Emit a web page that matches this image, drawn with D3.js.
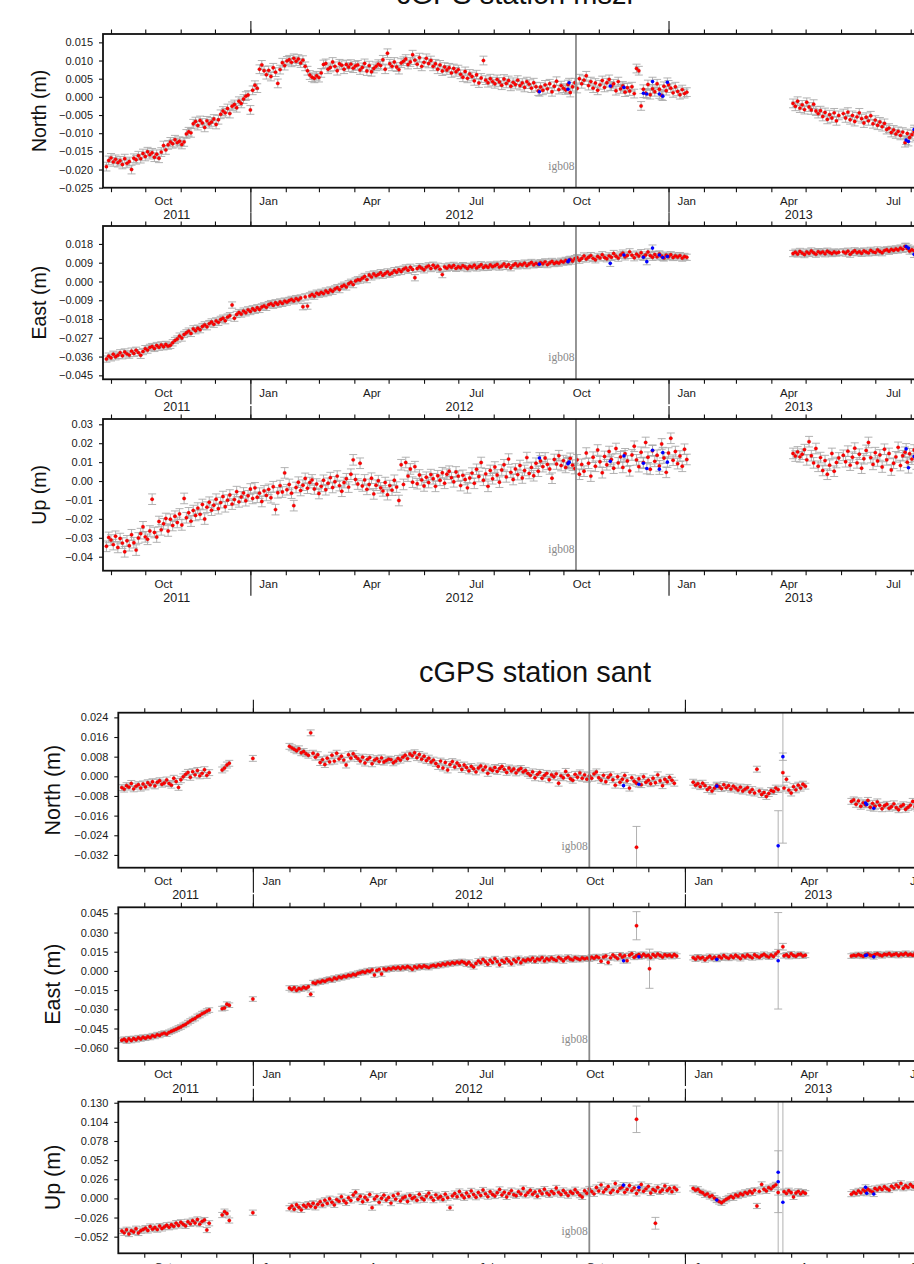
<!DOCTYPE html>
<html>
<head>
<meta charset="utf-8">
<script src="https://cdn.jsdelivr.net/npm/d3@7"></script>
<style>
  body { margin: 0; background: #fff; }
  svg { display: block; font-family: "Liberation Sans", Arial, sans-serif; }
</style>
</head>
<body>
<svg id="chart" width="914" height="1264"></svg>
<script>
// daily solutions, thinned to one value every 2 days, in mm
// each segment starts at the matching date in *Starts

// ---- station mszr ----
const mszrStarts = ["2011-08-28", "2013-04-20", "2013-06-03"];
const mszrNorth = [
  [-19.2, -17.5, -16.8, -17.9, -17.2, -18.1, -17.6, -18.6, -17.0, -18.3,
   -17.8, -20.0, -16.9, -17.3, -16.2, -17.0, -15.6, -16.4, -15.1, -15.9,
   -15.4, -16.6, -15.8, -16.9, -15.2, -13.4, -14.6, -13.2, -12.4, -12.9,
   -11.8, -12.6, -12.2, -13.1, -12.4, -10.2, -9.6, -9.9, -7.4, -6.8,
   -7.9, -6.5, -7.2, -8.4, -6.6, -7.4, -6.9, -6.1, -7.6, -6.3,
   -4.8, -3.9, -4.4, -3.2, -4.6, -2.6, -2.1, -3.0, -1.2, -1.8,
   -0.6, 0.2, 0.5, -3.6, 1.8, 3.2, 2.4, 7.6, 8.8, 7.2,
   6.1, 7.3, 5.6, 8.0, 6.8, 3.7, 7.5, 9.4, 8.6, 9.9,
   10.2, 9.5, 10.6, 9.8, 10.4, 9.3, 10.1, 8.4, 7.2, 6.0,
   5.4, 5.1, 5.8, 5.3, 6.6, 8.9, 9.2, 7.6, 8.1, 9.6,
   8.4, 7.2, 9.1, 8.7, 7.6, 8.9, 8.2, 9.0, 7.9, 8.5,
   8.8, 7.4, 8.1, 9.2, 7.1, 8.6, 6.9, 7.8, 8.4, 9.0,
   8.6, 10.2, 7.6, 12.0, 9.1, 8.4, 9.6, 8.2, 7.5, 9.3,
   9.8, 10.4, 8.9, 9.6, 11.6, 10.1, 9.0, 10.8, 8.4, 9.5,
   10.6, 9.2, 10.0, 8.4, 9.1, 7.6, 8.8, 7.1, 8.2, 7.4,
   8.0, 6.6, 7.8, 6.9, 7.5, 6.2, 5.4, 7.0, 5.1, 6.3,
   5.6, 4.4, 6.1, 3.8, 5.2, 10.0, 4.6, 3.9, 5.0, 4.2,
   3.6, 4.8, 4.1, 3.2, 4.9, 3.7, 4.5, 2.9, 4.0, 3.4,
   4.6, 3.1, 3.8, 2.6, 4.2, 3.5, 2.4, 3.9, 2.8, 1.6,
   2.7, 1.8, 3.3, 2.2, 3.6, 1.4, 2.9, 4.3, 2.0, 3.1,
   2.4, 1.9, 3.4, 1.2, 2.8, 3.9, 2.3, 5.0, 3.6, 4.6,
   5.8, 3.1, 4.2, 2.4, 3.8, 1.8, 3.3, 4.5, 2.6, 3.9,
   4.8, 2.9, 3.6, 1.7, 4.2, 2.2, 3.0, 1.3, 2.5, 1.6,
   2.8, 0.9, 7.8, 7.2, -2.5, 2.1, 1.0, 3.4, 0.6, 2.2,
   1.4, 3.6, 2.1, 0.4, 2.9, 1.7, 3.3, 2.4, 1.1, 2.8,
   1.5, 0.6, 2.0, 0.9, 1.3],
  [-1.8, -2.6, -1.2, -3.1, -2.2, -3.5, -1.5, -2.8, -3.6, -2.0,
   -3.9, -4.6, -3.8, -5.4, -4.3, -6.2, -4.9, -5.8, -4.4, -6.6, -5.1],
  [-4.6, -5.8, -4.2, -6.3, -5.1, -6.8, -5.5, -4.4, -6.0, -7.2,
   -5.6, -6.6, -5.2, -7.4, -6.4, -7.8, -6.9, -8.2, -7.3, -9.0,
   -8.6, -9.8, -9.1, -10.2, -9.5, -10.6, -9.7, -12.6, -10.1, -11.2,
   -10.4, -9.6, -10.8, -11.5, -10.2, -11.0]
];
const mszrEast = [
  [-37.2, -35.8, -36.6, -34.9, -36.1, -35.4, -34.2, -35.6, -33.8, -34.7,
   -35.3, -33.4, -34.5, -33.0, -34.1, -35.4, -33.6, -32.2, -32.9, -31.6,
   -31.2, -32.1, -30.7, -31.5, -30.4, -31.3, -30.2, -31.0, -30.6, -29.4,
   -28.3, -27.6, -26.2, -27.1, -25.4, -24.6, -23.8, -24.9, -22.7, -23.6,
   -22.4, -23.1, -21.6, -20.8, -21.7, -20.2, -19.4, -20.5, -18.9, -19.6,
   -18.2, -17.6, -18.8, -17.1, -16.4, -11.3, -17.6, -15.8, -14.9, -15.6,
   -14.2, -15.0, -13.6, -14.4, -13.1, -13.8, -12.6, -13.4, -12.2, -11.7,
   -12.4, -11.1, -10.6, -11.4, -10.2, -10.9, -9.8, -10.5, -9.4, -9.9,
   -9.1, -8.6, -9.3, -8.2, -8.8, -7.9, -12.1, -7.4, -11.8, -6.9,
   -6.2, -7.0, -5.6, -6.1, -5.2, -5.8, -4.6, -5.3, -4.1, -4.7,
   -3.6, -3.0, -3.9, -2.4, -1.8, -2.6, -1.1, -0.4, -1.5, 0.2,
   0.8, 0.7, 1.6, 2.4, 0.9, 3.1, 2.2, 3.6, 2.8, 3.4,
   4.2, 3.0, 3.8, 4.6, 3.5, 4.1, 5.2, 4.4, 5.6, 4.8,
   5.9, 6.5, 5.4, 6.8, 5.8, 1.8, 6.2, 7.1, 6.4, 5.6,
   6.9, 7.5, 6.2, 7.8, 6.6, 7.3, 5.9, 3.3, 7.0, 6.4,
   7.4, 6.8, 7.7, 6.3, 7.1, 6.6, 7.6, 7.0, 6.2, 7.3,
   6.9, 7.8, 6.5, 7.2, 8.0, 6.7, 7.5, 6.8, 7.9, 7.1,
   7.6, 8.2, 6.9, 7.4, 8.4, 7.2, 8.1, 6.6, 7.8, 8.5,
   7.5, 8.3, 7.9, 8.8, 7.6, 8.4, 9.1, 8.0, 8.7, 8.2,
   9.0, 8.5, 9.4, 8.1, 8.9, 9.6, 8.6, 9.2, 8.8, 9.7,
   9.3, 10.1, 9.6, 10.6, 9.8, 10.9, 11.4, 10.2, 11.0, 12.2,
   10.8, 11.6, 12.4, 11.1, 10.4, 12.0, 11.3, 12.8, 11.5, 10.9,
   12.3, 11.6, 13.4, 12.1, 11.2, 12.7, 13.6, 11.8, 12.5, 14.2,
   12.6, 11.4, 13.1, 12.2, 13.8, 11.9, 12.7, 14.1, 12.4, 11.6,
   12.9, 11.8, 13.2, 12.1, 11.3, 12.6, 11.9, 12.8, 11.5, 12.3,
   11.7, 12.4, 11.2, 12.0, 11.6],
  [13.4, 14.0, 13.2, 14.4, 13.6, 12.9, 14.1, 13.5, 14.6, 13.8,
   13.1, 14.3, 13.7, 14.2, 13.3, 14.5, 13.9, 13.4, 14.1, 13.6, 14.0],
  [14.2, 13.6, 14.5, 13.1, 14.0, 14.7, 13.8, 14.3, 13.5, 14.6,
   14.1, 13.7, 14.9, 14.2, 13.9, 15.1, 14.4, 13.8, 14.8, 15.2,
   14.5, 15.4, 14.9, 15.6, 15.1, 16.0, 15.4, 16.8, 15.8, 14.6,
   15.2, 14.8, 15.5, 14.9, 15.3, 14.7]
];
const mszrUp = [
  [-34.5, -29.8, -31.2, -33.6, -29.2, -35.1, -30.4, -32.8, -37.4, -31.6,
   -34.2, -28.4, -32.6, -36.5, -30.1, -27.8, -24.2, -29.5, -30.8, -26.4,
   -9.6, -27.2, -29.6, -21.4, -25.8, -22.6, -19.8, -26.4, -20.2, -23.5,
   -18.6, -21.9, -17.4, -23.2, -9.2, -19.4, -16.8, -21.2, -15.6, -18.2,
   -14.3, -17.6, -12.4, -20.1, -13.8, -11.2, -15.4, -12.8, -9.6, -14.6,
   -11.4, -8.2, -13.6, -10.1, -7.4, -12.2, -9.8, -5.6, -11.0, -8.4,
   -6.3, -10.4, -7.8, -4.2, -9.2, -3.6, -8.6, -6.4, -10.8, -5.2,
   -7.6, -4.4, -8.8, -3.0, -15.1, -6.2, -2.4, -5.8, 4.3, -4.6,
   -1.8, -6.4, -13.0, -3.4, -0.6, -5.0, -2.2, 1.4, -3.8, -0.8,
   0.6, -4.2, -1.6, -6.6, -2.8, 0.4, -4.6, -1.2, 1.8, -3.4,
   -0.4, 2.6, -2.4, -5.4, -0.8, 1.2, -3.2, 3.6, 11.2, 0.8,
   -1.6, 9.4, -2.6, 0.6, -4.4, -1.8, 1.5, -6.8, -2.2, 0.2,
   -3.6, -5.2, -0.8, -7.2, -2.4, -4.8, 0.4, -3.2, -10.3, 8.6,
   -1.8, 9.8, 2.6, 6.4, -0.6, 7.6, -1.4, 3.2, 0.6, -2.6,
   2.0, -0.8, 3.4, 1.2, -2.8, 2.8, 0.4, 4.4, -1.2, 3.6,
   5.2, 1.8, -0.4, 4.8, 2.6, -2.4, 3.0, 0.8, -3.6, 1.6,
   4.2, -1.2, 6.2, 2.4, 9.8, 0.4, 3.8, -2.8, 5.6, 1.2,
   7.4, 3.2, -0.6, 5.8, 8.6, 2.2, 11.6, 4.6, 0.8, 6.4,
   3.4, 8.2, 1.6, 5.6, 12.4, 4.0, 7.2, 2.8, 9.4, 5.2,
   10.6, 7.6, 12.2, 8.8, 6.4, 1.5, 11.4, 9.0, 13.4, 8.2,
   10.8, 7.2, 9.6, 12.0, 8.4, 6.6, 11.2, 3.6, 8.8, 5.2,
   14.8, 9.4, 2.6, 12.6, 7.8, 16.4, 10.2, 4.4, 13.0, 8.6,
   15.6, 11.4, 6.8, 17.2, 9.6, 12.8, 7.2, 14.4, 10.6, 5.4,
   13.8, 18.4, 11.2, 7.6, 15.2, 9.8, 20.4, 12.6, 6.2, 16.0,
   10.4, 13.6, 8.0, 19.6, 12.2, 4.6, 14.8, 22.6, 11.0, 15.6,
   9.2, 13.2, 7.8, 16.8, 11.4],
  [14.6, 13.2, 15.4, 12.8, 14.2, 16.6, 11.2, 20.8, 13.4, 9.6,
   17.2, 7.8, 12.4, 5.6, 10.8, 3.6, 8.4, 14.6, 5.2, 9.8, 12.2],
  [13.6, 10.2, 15.8, 8.4, 12.6, 17.4, 9.6, 14.2, 6.8, 11.8,
   16.2, 20.4, 12.4, 8.8, 15.0, 10.6, 13.8, 7.4, 16.8, 11.2,
   14.6, 5.8, 9.4, 12.8, 17.8, 8.2, 13.4, 15.2, 10.0, 14.4,
   11.6, 16.4, 9.0, 13.0, 15.8, 12.2]
];
const mszrBlueDates = ["2012-09-10", "2012-10-05", "2012-10-06", "2012-11-11", "2012-11-23",
  "2012-12-10", "2012-12-13", "2012-12-18", "2012-12-24", "2012-12-27", "2012-12-31",
  "2013-07-28", "2013-07-30", "2013-08-04"];
const mszrNorthBlue = [1.4, 2.1, 3.9, 3.0, 2.6, 1.0, 0.8, 4.2, 0.8, 0.2, 4.0, -11.9, -12.3, -9.0];
const mszrEastBlue = [8.3, 9.5, 10.3, 8.7, 12.7, 11.6, 9.5, 16.0, 12.7, 11.5, 12.0, 16.8, 16.0, 13.0];
const mszrUpBlue = [12.2, 9.2, 10.0, 10.4, 13.3, 9.4, 6.6, 16.3, 6.3, 15.0, 10.0, 17.0, 7.0, 13.0];
const mszrSigma = [1.2, 1.5, 2.8];   // typical 1-sigma (mm) for N, E, U

// ---- station sant ----
const santStarts = ["2011-09-12", "2011-12-06", "2012-01-01", "2012-02-01", "2013-01-08", "2013-03-26", "2013-05-22"];
const santNorth = [
  [-4.6, -5.2, -3.8, -4.4, -2.9, -5.1, -4.0, -3.4, -4.8, -3.1,
   -4.3, -2.6, -3.5, -2.2, -3.9, -2.4, -1.8, -3.2, -2.7, -1.5,
   -2.9, -3.6, -0.8, -2.1, -4.5, -1.4, -0.2, 0.8, 1.6, -0.4,
   1.9, 0.6, 2.4, 0.2, 1.2, 2.7, 0.4, 1.5],
  [2.6, 3.4, 4.6, 5.3],
  [7.3],
  [12.2, 11.6, 11.0, 10.4, 11.2, 9.6, 10.1, 9.2, 8.6, 17.7,
   9.4, 7.8, 8.8, 5.6, 6.8, 4.8, 7.4, 5.9, 8.6, 6.2,
   9.4, 7.1, 8.2, 6.6, 4.6, 8.8, 7.4, 9.2, 8.0, 7.2,
   6.2, 7.8, 5.4, 6.9, 7.6, 5.1, 6.6, 7.2, 6.0, 7.5, 5.8, 6.4, 7.0, 6.8, 5.5, 6.2, 7.3,
   6.6, 7.8, 8.6, 7.2, 9.1, 8.4, 9.6, 7.6, 8.9, 7.0, 8.2, 6.4, 7.4, 5.8,
   6.6, 5.2, 4.0, 6.2, 3.4, 5.6, 2.6, 4.8, 6.0, 3.8, 5.4, 4.4, 2.8, 4.6,
   3.6, 2.2, 4.0, 3.1, 1.8, 3.4, 4.2, 2.6, 3.8, 1.2, 3.0, 2.4, 3.6,
   2.0, 3.2, 4.0, 2.8, 1.6, 3.4, 2.2, 3.0, 1.4, 2.6, 3.2, 1.8, 2.4,
   1.2, 0.4, 1.8, -0.6, 0.8, 1.6, -0.8, 0.4, 1.2, -1.4, 0.6, -0.2, 1.0,
   -2.8, 0.2, -0.6, 2.0, 0.4, -1.0, -1.6, 0.8, -0.4, 1.4, -0.8, 0.6, -1.2,
   0.2, -0.8, 1.0, 1.8, -0.6, -1.6, 0.4, -2.2, -0.4, 0.6, -1.4, -3.6, -0.2,
   -2.4, -1.2, 0.4, -1.8, -4.8, -0.6, -2.0, -2.8, -1.0, -3.4, -0.2, -2.4,
   -1.6, -3.0, -0.8, -2.6, 0.6, -1.8, -3.8, -1.2, -2.2, -0.4, -1.6, -2.8],
  [-2.4, -3.6, -3.0, -4.2, -2.8, -3.8, -5.4, -4.6, -6.0, -4.8,
   -3.6, -4.2, -5.0, -3.4, -4.6, -3.8, -5.2, -4.0, -4.8, -5.6,
   -4.4, -6.0, -5.2, -4.6, -6.4, -5.4, -6.8, 2.9, -6.0, -7.4,
   -6.6, -8.2, -7.0, -5.8, -6.2, -4.8, -5.4],
  [-4.8, -1.2, -5.6, -6.8, -4.2, -5.5, -3.6, -4.8, -3.2, -4.0],
  [-10.2, -9.6, -11.4, -10.0, -12.2, -10.8, -11.6, -9.8, -12.6, -11.0,
   -12.2, -10.4, -11.8, -13.2, -12.0, -11.4, -13.0, -12.4, -11.2, -12.8,
   -13.6, -12.2, -11.6, -13.4, -12.6, -11.8, -10.2, -12.4, -13.0, -14.2,
   -12.8, -11.6, -13.4, -12.2, -14.0, -12.6, -13.2, -11.8, -12.8, -13.6,
   -12.4, -13.0, -12.2]
];
const santEast = [
  [-54.2, -53.4, -54.8, -53.0, -54.4, -52.8, -53.8, -52.2, -53.2, -51.8,
   -52.6, -51.4, -52.0, -50.6, -51.2, -49.8, -50.4, -49.2, -48.6, -49.4,
   -48.0, -47.2, -46.4, -45.6, -44.6, -43.8, -42.6, -41.8, -40.4, -39.2,
   -38.0, -37.2, -35.6, -34.8, -33.4, -32.6, -31.4, -30.6],
  [-29.5, -29.0, -26.0, -26.8],
  [-22.0],
  [-13.4, -14.6, -13.2, -15.2, -13.8, -14.2, -12.8, -13.6, -12.4, -18.3,
   -9.2, -9.8, -8.4, -8.8, -7.6, -8.2, -7.0, -6.4, -7.2, -5.6,
   -6.2, -4.8, -5.4, -4.2, -4.6, -3.4, -3.8, -2.6, -3.2, -1.8,
   -1.4, -0.6, -1.2, 0.2, -0.4, 0.8, -3.2, 0.4, 1.2, -2.4,
   1.6, 0.8, 2.0, 1.4, 2.6, 1.8, 2.8, 1.6, 3.0, 2.2,
   3.4, 2.6, 1.2, 3.2, 2.4, 3.8, 2.8, 4.0, 3.2, 2.6,
   3.8, 4.4, 3.6, 5.0, 4.2, 5.6, 4.8, 6.2, 5.4, 6.6,
   5.8, 7.0, 6.2, 7.4, 6.6, 5.2, 6.8, 4.6, 3.2, 5.8,
   7.8, 6.4, 9.0, 7.2, 5.2, 8.4, 6.6, 9.6, 7.4, 4.8,
   8.2, 6.8, 9.4, 7.6, 5.6, 8.8, 7.2, 9.8, 6.4, 8.6,
   7.8, 9.2, 8.4, 10.0, 7.6, 9.4, 8.8, 10.4, 7.8, 9.6,
   8.6, 10.2, 9.0, 8.2, 10.6, 9.4, 7.8, 9.8, 10.8, 9.2,
   8.6, 10.4, 9.6, 8.8, 10.2, 9.4, 10.0, 9.2, 10.8, 9.8,
   11.2, 10.4, 7.6, 10.8, 11.6, 6.6, 10.2, 12.4, 11.0, 9.6,
   12.6, 10.8, 11.8, 8.0, 12.2, 13.4, 10.6, 11.8, 12.8, 11.2,
   13.0, 11.6, 12.2, 10.4, 12.8, 11.4, 13.2, 12.0, 10.8, 12.6,
   11.8, 12.4, 11.2, 12.8, 11.6],
  [10.4, 9.2, 11.0, 9.8, 10.6, 8.6, 10.2, 11.4, 9.6, 10.8,
   9.4, 11.2, 10.0, 12.0, 10.6, 9.8, 11.6, 10.4, 12.2, 11.0,
   9.6, 11.8, 10.8, 12.4, 11.2, 10.2, 12.6, 11.4, 10.6, 12.0,
   13.0, 11.6, 10.8, 12.4, 11.2, 13.2, 15.0],
  [11.8, 12.6, 11.2, 13.4, 12.0, 11.4, 12.8, 13.0, 11.6, 12.2],
  [11.6, 12.2, 11.8, 12.8, 12.0, 11.4, 12.6, 13.2, 12.2, 11.8,
   12.8, 13.4, 12.4, 11.8, 13.0, 12.6, 13.6, 12.2, 12.8, 13.4,
   12.0, 13.2, 12.6, 13.8, 12.4, 13.0, 12.2, 13.6, 12.8, 13.2,
   12.4, 13.4, 12.6, 13.0, 12.2, 13.8, 12.8, 13.4, 12.6, 13.2,
   12.8, 13.6, 12.4]
];
const santUp = [
  [-44.2, -46.8, -42.6, -48.4, -43.8, -45.6, -41.2, -47.0, -44.0, -42.2,
   -40.4, -43.6, -38.2, -41.8, -39.6, -42.4, -37.6, -40.8, -38.8, -36.4,
   -39.2, -35.8, -38.0, -33.6, -36.8, -32.4, -35.2, -37.4, -31.8, -34.6,
   -30.2, -33.4, -28.6, -35.0, -31.2, -29.4, -43.0, -33.8],
  [-22.6, -18.0, -20.6, -30.0],
  [-19.4],
  [-13.4, -10.2, -14.8, -8.6, -12.0, -15.6, -9.4, -11.6, -7.8, -10.8,
   -6.6, -12.2, -8.0, -4.4, -9.2, -2.6, -6.8, -0.4, -5.2, -8.8,
   -1.6, -4.0, 2.4, -3.2, -6.2, 0.8, -2.8, 4.6, 8.4, -1.2,
   3.0, -4.6, 1.6, -2.0, 5.2, -12.6, -0.8, 2.8, -5.4, 0.2,
   4.4, -2.2, 1.2, -6.4, 3.6, -1.0, 6.2, -3.4, 0.6, 2.2,
   -4.2, 4.0, -0.2, 1.8, -2.6, 5.6, 0.4, -1.8, 3.2, 7.2,
   1.4, -2.4, 4.8, 0.6, 2.6, -1.4, 5.8, 1.0, -12.6, 3.4,
   6.6, 2.2, 9.4, 4.2, 0.8, 7.4, 3.0, 10.2, 5.2, 1.6,
   8.0, 4.0, 11.4, 6.2, 2.4, 9.0, 5.4, 3.2, 7.6, 12.2,
   4.6, 8.4, 2.0, 6.8, 10.6, 5.0, 3.6, 9.2, 6.0, 13.4,
   4.2, 7.8, 11.0, 5.6, 8.8, 3.0, 10.0, 6.4, 12.6, 7.2,
   4.8, 9.6, 6.6, 14.2, 8.2, 5.2, 10.8, 7.4, 3.8, 9.0,
   6.8, 11.8, 8.0, 4.4, 2.0, 10.4, 7.0, 12.8, 9.4, 6.2,
   14.8, 10.0, 18.4, 8.6, 12.4, 16.2, 7.8, 11.2, 20.2, 9.4,
   13.6, 15.4, 8.2, 12.0, 17.6, 10.6, 14.2, 6.8, 11.6, 18.8,
   9.8, 13.0, 16.4, 7.4, 12.2, 10.2, 15.0, 8.8, 11.4, 17.0,
   10.8, 13.8, 9.2, 14.6, 11.8],
  [13.6, 11.2, 12.4, 9.0, 7.6, 4.8, 6.2, 2.6, 3.8, 0.4,
   -1.8, -4.2, -6.0, -3.6, -1.2, 0.6, 2.8, 0.8, 4.6, 3.2,
   6.4, 5.0, 8.2, 6.6, 9.8, 7.4, 11.0, -10.3, 9.6, 19.0,
   12.4, 10.2, 14.6, 13.0, 16.2, 18.4, 8.0],
  [9.2, 6.8, 10.4, 8.0, 2.0, 7.4, 9.6, 6.2, 8.6, 7.0],
  [5.8, 8.4, 6.6, 10.2, 7.6, 11.4, 9.0, 12.6, 10.2, 8.8,
   13.4, 11.6, 14.6, 12.0, 15.8, 13.2, 11.4, 16.6, 14.0, 18.2,
   15.4, 20.4, 13.8, 17.2, 15.0, 18.8, 16.2, 14.4, 19.6, 16.8,
   13.6, 17.8, 15.2, 18.6, 14.8, 17.4, 16.0, 19.2, 15.6, 13.8,
   17.0, 15.4, 16.6]
];
// isolated solutions with large uncertainty: [date, value, sigma]
const santNorthOdd = [["2012-11-21", -28.9, 8.5], ["2013-03-25", 1.5, 28.7]];
const santEastOdd = [["2012-11-21", 35.3, 11.0], ["2012-12-02", 1.7, 15.3], ["2013-03-25", 18.9, 2.6]];
const santUpOdd = [["2012-11-21", 107.5, 18.0], ["2012-12-07", -33.8, 8.0]];
// blue solutions: [date, value, sigma]
const santNorthBlue = [["2012-11-10", -3.8, 1.2], ["2012-11-23", -3.2, 1.2], ["2013-01-28", -4.0, 1.2],
  ["2013-03-21", -28.3, 14.3], ["2013-03-25", 8.0, 1.5], ["2013-06-03", -10.9, 1.2],
  ["2013-06-04", -11.5, 1.2], ["2013-06-10", -13.0, 1.2]];
const santEastBlue = [["2012-11-10", 7.9, 1.8], ["2012-11-23", 11.0, 1.8], ["2013-01-28", 9.0, 1.8],
  ["2013-03-21", 7.9, 37.7], ["2013-06-03", 12.0, 1.8], ["2013-06-04", 12.4, 1.8], ["2013-06-10", 11.0, 1.8]];
const santUpBlue = [["2012-11-10", 18.0, 3.5], ["2012-11-23", 15.0, 3.5], ["2013-01-28", -2.2, 3.5],
  ["2013-03-21", 35.5, 300], ["2013-03-21", 22.7, 42], ["2013-03-25", -5.3, 300],
  ["2013-06-03", 15.0, 3.5], ["2013-06-04", 7.0, 3.5], ["2013-06-10", 6.0, 3.5]];
const santSigma = [1.2, 1.8, 3.5];

// axis ticks (mm) and frame change date
const mszrNorthTicks = [-25, -20, -15, -10, -5, 0, 5, 10, 15];
const mszrEastTicks = [-45, -36, -27, -18, -9, 0, 9, 18];
const mszrUpTicks = [-40, -30, -20, -10, 0, 10, 20, 30];
const santNorthTicks = [-32, -24, -16, -8, 0, 8, 16, 24];
const santEastTicks = [-60, -45, -30, -15, 0, 15, 30, 45];
const santUpTicks = [-52, -26, 0, 26, 52, 78, 104, 130];
const frameChange = { date: "2012-10-12", label: "igb08" };

const svg = d3.select("#chart");
const parse = d3.utcParse("%Y-%m-%d");

function regularPoints(starts, segs, sigma) {
  const pts = [];
  segs.forEach((vals, k) => {
    const t0 = parse(starts[k]);
    vals.forEach((v, i) => pts.push({ date: d3.utcDay.offset(t0, 2 * i), v: v, s: sigma, blue: false }));
  });
  return pts;
}
function listPoints(list, blue) {
  return list.map(d => ({ date: parse(d[0]), v: d[1], s: d[2], blue: blue }));
}

const stations = [
  {
    name: "cGPS station mszr", titleY: 4, from: "2011-08-25", to: "2013-08-17", left: 103, right: 929,
    labelX: 46, labelSize: 19.5,
    panels: [
      { label: "North (m)", top: 34, bottom: 187.7, dom: [-25, 17.3], ticks: mszrNorthTicks, fmt: ".3f",
        pts: regularPoints(mszrStarts, mszrNorth, mszrSigma[0])
          .concat(mszrBlueDates.map((d, i) => ({ date: parse(d), v: mszrNorthBlue[i], s: mszrSigma[0], blue: true }))) },
      { label: "East (m)", top: 226, bottom: 379.3, dom: [-46.9, 26.6], ticks: mszrEastTicks, fmt: ".3f",
        pts: regularPoints(mszrStarts, mszrEast, mszrSigma[1])
          .concat(mszrBlueDates.map((d, i) => ({ date: parse(d), v: mszrEastBlue[i], s: mszrSigma[1], blue: true }))) },
      { label: "Up (m)", top: 419, bottom: 570.7, dom: [-47.4, 32.8], ticks: mszrUpTicks, fmt: ".2f",
        pts: regularPoints(mszrStarts, mszrUp, mszrSigma[2])
          .concat(mszrBlueDates.map((d, i) => ({ date: parse(d), v: mszrUpBlue[i], s: mszrSigma[2], blue: true }))) }
    ]
  },
  {
    name: "cGPS station sant", titleY: 681.7, from: "2011-09-09", to: "2013-08-15", left: 118.3, right: 951.7,
    labelX: 60, labelSize: 21.5,
    panels: [
      { label: "North (m)", top: 712.7, bottom: 867.7, dom: [-37.2, 25.9], ticks: santNorthTicks, fmt: ".3f",
        pts: regularPoints(santStarts, santNorth, santSigma[0])
          .concat(listPoints(santNorthOdd, false), listPoints(santNorthBlue, true)) },
      { label: "East (m)", top: 907.3, bottom: 1061, dom: [-70.4, 49.7], ticks: santEastTicks, fmt: ".3f",
        pts: regularPoints(santStarts, santEast, santSigma[1])
          .concat(listPoints(santEastOdd, false), listPoints(santEastBlue, true)) },
      { label: "Up (m)", top: 1101.7, bottom: 1253.3, dom: [-74.6, 131.4], ticks: santUpTicks, fmt: ".3f",
        pts: regularPoints(santStarts, santUp, santSigma[2])
          .concat(listPoints(santUpOdd, false), listPoints(santUpBlue, true)) }
    ]
  }
];

let clipCount = 0;

function drawPanel(x, st, p) {
  const y = d3.scaleLinear().domain(p.dom).range([p.bottom, p.top]);
  const g = svg.append("g");
  const [x0, x1] = x.range();
  const [d0, d1] = x.domain();
  const id = "clip" + (clipCount++);
  g.append("clipPath").attr("id", id).append("rect")
    .attr("x", x0).attr("y", p.top).attr("width", x1 - x0).attr("height", p.bottom - p.top);
  const plot = g.append("g").attr("clip-path", `url(#${id})`);

  // error bars
  const cap = 4;
  const bars = p.pts.map(d => {
    const px = x(d.date), ya = y(d.v - d.s), yb = y(d.v + d.s);
    return `M${px},${ya}V${yb}M${px - cap},${ya}H${px + cap}M${px - cap},${yb}H${px + cap}`;
  }).join("");
  plot.append("path").attr("d", bars).attr("fill", "none")
    .attr("stroke", "#a9a9a9").attr("stroke-width", 0.9);

  plot.selectAll("circle.red").data(p.pts.filter(d => !d.blue)).join("circle")
    .attr("class", "red")
    .attr("cx", d => x(d.date)).attr("cy", d => y(d.v)).attr("r", 1.7)
    .attr("fill", "#ff0000").attr("stroke", "#c00000").attr("stroke-width", 0.3);
  plot.selectAll("circle.blue").data(p.pts.filter(d => d.blue)).join("circle")
    .attr("class", "blue")
    .attr("cx", d => x(d.date)).attr("cy", d => y(d.v)).attr("r", 1.8)
    .attr("fill", "#0000ff");

  // reference frame change
  const fx = x(parse(frameChange.date));
  g.append("line").attr("x1", fx).attr("x2", fx).attr("y1", p.top).attr("y2", p.bottom)
    .attr("stroke", "#8a8a8a").attr("stroke-width", 1.8);
  g.append("text").attr("x", fx - 1.5).attr("y", p.bottom - 18)
    .attr("text-anchor", "end").attr("font-family", "'Liberation Serif', 'DejaVu Serif', serif")
    .attr("font-size", 11.5).attr("fill", "#8a8a8a").text(frameChange.label);

  // frame
  g.append("rect").attr("x", x0).attr("y", p.top).attr("width", x1 - x0).attr("height", p.bottom - p.top)
    .attr("fill", "none").attr("stroke", "#111").attr("stroke-width", 1.8);

  const months = d3.utcMonth.range(d0, d1);
  const years = d3.utcYear.range(d0, d1);
  const clean = a => { a.select(".domain").remove(); a.selectAll("line").attr("stroke", "#111").attr("stroke-width", 1.1); };

  g.append("g").attr("transform", `translate(0,${p.bottom})`)
    .call(d3.axisBottom(x).tickValues(months).tickSize(4.5).tickFormat("")).call(clean);
  g.append("g").attr("transform", `translate(0,${p.top})`)
    .call(d3.axisTop(x).tickValues(months).tickSize(4.5).tickFormat("")).call(clean);
  g.append("g").attr("transform", `translate(0,${p.bottom})`)
    .call(d3.axisBottom(x).tickValues(years).tickSize(25).tickFormat("")).call(clean);
  g.append("g").attr("transform", `translate(0,${p.top})`)
    .call(d3.axisTop(x).tickValues(years).tickSize(13).tickFormat("")).call(clean);

  // quarter month names centred in their month
  const quarters = d3.utcMonth.every(3).range(d0, d1);
  const mids = quarters.map(q => new Date((+q + +d3.utcMonth.offset(q, 1)) / 2));
  const qAxis = g.append("g").attr("transform", `translate(0,${p.bottom})`)
    .call(d3.axisBottom(x).tickValues(mids).tickSize(0).tickPadding(8).tickFormat(d3.utcFormat("%b")));
  qAxis.select(".domain").remove();
  qAxis.selectAll("text").attr("font-family", "'Liberation Sans', Arial, sans-serif")
    .attr("font-size", 11.5).attr("fill", "#1a1a1a").attr("dy", 0).attr("y", 17.3);

  // year names centred on the visible part of the year
  const yearStarts = [d3.utcYear.floor(d0)].concat(years);
  yearStarts.forEach(ys => {
    const a = ys < d0 ? d0 : ys;
    const nb = d3.utcYear.offset(ys, 1);
    const b = nb > d1 ? d1 : nb;
    g.append("text").attr("x", (x(a) + x(b)) / 2).attr("y", p.bottom + 31.5)
      .attr("text-anchor", "middle").attr("font-size", 12.5).attr("fill", "#1a1a1a")
      .text(d3.utcFormat("%Y")(ys));
  });

  // y axis
  const f = d3.format(p.fmt);
  const yAxis = g.append("g").attr("transform", `translate(${x0},0)`)
    .call(d3.axisLeft(y).tickValues(p.ticks).tickSize(4).tickPadding(6).tickFormat(v => f(v / 1000)));
  yAxis.call(clean);
  yAxis.selectAll("text").attr("font-family", "'Liberation Sans', Arial, sans-serif")
    .attr("font-size", 11).attr("fill", "#1a1a1a");

  g.append("text")
    .attr("transform", `translate(${st.labelX},${(p.top + p.bottom) / 2}) rotate(-90)`)
    .attr("text-anchor", "middle").attr("font-size", st.labelSize).attr("fill", "#111")
    .text(p.label);
}

stations.forEach(st => {
  const x = d3.scaleUtc().domain([parse(st.from), parse(st.to)]).range([st.left, st.right]);
  svg.append("text").attr("x", (st.left + st.right) / 2).attr("y", st.titleY)
    .attr("text-anchor", "middle").attr("font-size", 29).attr("fill", "#111").text(st.name);
  st.panels.forEach(p => drawPanel(x, st, p));
});
</script>
</body>
</html>
